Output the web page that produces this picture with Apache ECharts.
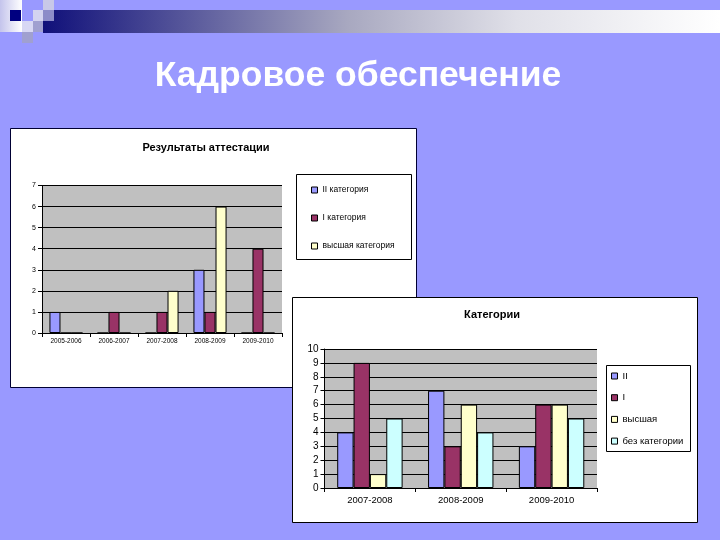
<!DOCTYPE html>
<html><head><meta charset="utf-8">
<script src="https://cdn.jsdelivr.net/npm/echarts@6/dist/echarts.min.js"></script>
<style>html,body{margin:0;padding:0;background:#9999FF}#c{width:720px;height:540px}</style>
</head><body><div id="c"></div>
<script>
// ---- data ----
const slideTitle = 'Кадровое обеспечение';
const chart1Title = 'Результаты аттестации';
const chart1Categories = ['2005-2006', '2006-2007', '2007-2008', '2008-2009', '2009-2010'];
const chart1SeriesNames = ['II категория', 'I категория', 'высшая категория'];
const chart1II = [1, 0, 0, 3, 0];
const chart1I = [0, 1, 1, 1, 4];
const chart1High = [0, 0, 2, 6, 0];
const chart1YTicks = [0, 7, 1];

const chart2Title = 'Категории';
const chart2Categories = ['2007-2008', '2008-2009', '2009-2010'];
const chart2SeriesNames = ['II', 'I', 'высшая', 'без категории'];
const chart2II = [4, 7, 3];
const chart2I = [9, 3, 6];
const chart2High = [1, 6, 6];
const chart2None = [5, 4, 5];
const chart2YTicks = [0, 10, 1];

// ---- styles ----
const FONT = 'Liberation Sans, Arial, sans-serif';
const colII = '#9999FF', colI = '#993366', colHigh = '#FFFFCC', colNone = '#CCFFFF';

const chart = echarts.init(document.getElementById('c'), null, {renderer: 'canvas'});

function yAxis(gridIndex, ticks, fs, margin) {
  return {
    type: 'value', gridIndex, min: ticks[0], max: ticks[1], interval: ticks[2],
    axisLine: {show: true, lineStyle: {color: '#000', width: 1}},
    axisTick: {show: true, length: 4, lineStyle: {color: '#000'}},
    axisLabel: {color: '#000', fontSize: fs, fontFamily: FONT, margin},
    splitLine: {show: true, lineStyle: {color: '#000', width: 1}}
  };
}
function xAxis(gridIndex, cats, fs, margin) {
  return {
    type: 'category', gridIndex, data: cats,
    axisLine: {show: true, lineStyle: {color: '#000', width: 1}},
    axisTick: {show: true, length: 4, lineStyle: {color: '#000'}},
    axisLabel: {color: '#000', fontSize: fs, fontFamily: FONT, margin, interval: 0},
    splitLine: {show: false}
  };
}
function bar(name, data, color, xi, gap) {
  return {
    type: 'bar', name, data, xAxisIndex: xi, yAxisIndex: xi,
    barGap: '0%', barCategoryGap: gap,
    itemStyle: {color, borderColor: '#000', borderWidth: 1},
    emphasis: {disabled: true}, animation: false
  };
}

const option = {
  backgroundColor: '#9999FF',
  animation: false,
  title: [
    {text: slideTitle, left: 358, top: 58, textAlign: 'center', padding: 0,
     textStyle: {color: '#fff', fontSize: 35.5, fontWeight: 'bold', fontFamily: FONT}},
    {text: chart1Title, left: 206, top: 142, textAlign: 'center', padding: 0,
     textStyle: {color: '#000', fontSize: 11, fontWeight: 'bold', fontFamily: FONT}},
    {text: chart2Title, left: 492, top: 309, textAlign: 'center', padding: 0,
     textStyle: {color: '#000', fontSize: 11, fontWeight: 'bold', fontFamily: FONT}}
  ],
  graphic: [
    {type: 'rect', z: -5, shape: {x: 43, y: 10, width: 677, height: 23},
     style: {fill: new echarts.graphic.LinearGradient(0, 0, 1, 0, [
       {offset: 0, color: '#10107a'}, {offset: 0.45, color: '#a8a8c0'},
       {offset: 0.7, color: '#e0e0e8'}, {offset: 1, color: '#ffffff'}])}},
    {type: 'rect', z: -4, shape: {x: 0, y: 0, width: 22, height: 32},
     style: {fill: new echarts.graphic.LinearGradient(0, 0, 1, 0, [
       {offset: 0, color: '#c4c4ec'}, {offset: 1, color: '#ffffff'}])}},
    {type: 'rect', z: -4, shape: {x: 10, y: 10, width: 11, height: 11}, style: {fill: '#000080'}},
    {type: 'rect', z: -4, shape: {x: 33, y: 10, width: 10, height: 11}, style: {fill: '#d4d4f0'}},
    {type: 'rect', z: -4, shape: {x: 43, y: 0, width: 11, height: 10}, style: {fill: '#c8c8e8'}},
    {type: 'rect', z: -4, shape: {x: 43, y: 10, width: 11, height: 11}, style: {fill: '#8c8cc8'}},
    {type: 'rect', z: -4, shape: {x: 22, y: 21, width: 11, height: 11}, style: {fill: '#d8d8f4'}},
    {type: 'rect', z: -4, shape: {x: 33, y: 21, width: 10, height: 11}, style: {fill: '#a0a0d0'}},
    {type: 'rect', z: -4, shape: {x: 22, y: 32, width: 11, height: 11}, style: {fill: '#a0a0d0'}},
    // chart boxes
    {type: 'rect', z: -3, shape: {x: 10.5, y: 128.5, width: 406, height: 259},
     style: {fill: '#fff', stroke: '#000033', lineWidth: 1}},
    {type: 'rect', z: -3, shape: {x: 296.5, y: 174.5, width: 115, height: 85},
     style: {fill: '#fff', stroke: '#000', lineWidth: 1}},
    {type: 'rect', z: -2, shape: {x: 292.5, y: 297.5, width: 405, height: 225},
     style: {fill: '#fff', stroke: '#000', lineWidth: 1}},
    {type: 'rect', z: -2, shape: {x: 606.5, y: 365.5, width: 84, height: 86},
     style: {fill: '#fff', stroke: '#000', lineWidth: 1}}
  ],
  legend: [
    {data: chart1SeriesNames, orient: 'vertical', left: 311, top: 185, padding: 0,
     itemWidth: 6, itemHeight: 6, itemGap: 18, icon: 'rect', selectedMode: false,
     itemStyle: {borderColor: '#000', borderWidth: 1},
     textStyle: {color: '#000', fontSize: 8.5, fontFamily: FONT, lineHeight: 10}},
    {data: chart2SeriesNames, orient: 'vertical', left: 611, top: 370.5, padding: 0,
     itemWidth: 6, itemHeight: 6, itemGap: 10.7, icon: 'rect', selectedMode: false,
     itemStyle: {borderColor: '#000', borderWidth: 1},
     textStyle: {color: '#000', fontSize: 9.5, fontFamily: FONT, lineHeight: 11}}
  ],
  grid: [
    {left: 42, top: 185.5, width: 240, height: 147.5, show: true, backgroundColor: '#C0C0C0', borderWidth: 0, containLabel: false},
    {left: 324.5, top: 349, width: 272.5, height: 139, show: true, backgroundColor: '#C0C0C0', borderWidth: 0, containLabel: false}
  ],
  xAxis: [xAxis(0, chart1Categories, 6.5, 5), xAxis(1, chart2Categories, 9.5, 7)],
  yAxis: [yAxis(0, chart1YTicks, 7, 6), yAxis(1, chart2YTicks, 10, 6)],
  series: [
    bar(chart1SeriesNames[0], chart1II, colII, 0, '31%'),
    bar(chart1SeriesNames[1], chart1I, colI, 0, '31%'),
    bar(chart1SeriesNames[2], chart1High, colHigh, 0, '31%'),
    bar(chart2SeriesNames[0], chart2II, colII, 1, '28%'),
    bar(chart2SeriesNames[1], chart2I, colI, 1, '28%'),
    bar(chart2SeriesNames[2], chart2High, colHigh, 1, '28%'),
    bar(chart2SeriesNames[3], chart2None, colNone, 1, '28%')
  ]
};
chart.setOption(option);
</script></body></html>
